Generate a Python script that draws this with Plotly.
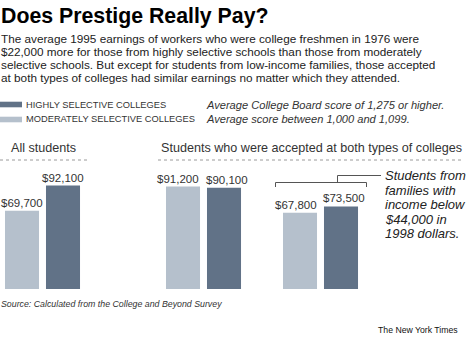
import plotly.graph_objects as go

W, H = 468, 337

# ---- data ----
groups = ["All students", "Accepted at both types", "Accepted at both, low-income"]
bar_names = ["Moderately selective colleges", "Highly selective colleges"]
moderately = [69700, 91200, 67800]
highly = [92100, 90100, 73500]

title = "Does Prestige Really Pay?"
subtitle_lines = [
    "The average 1995 earnings of workers who were college freshmen in 1976 were",
    "$22,000 more for those from highly selective schools than those from moderately",
    "selective schools. But except for students from low-income families, those accepted",
    "at both types of colleges had similar earnings no matter which they attended.",
]
legend_labels = ["HIGHLY SELECTIVE COLLEGES", "MODERATELY SELECTIVE COLLEGES"]
legend_notes = ["Average College Board score of 1,275 or higher.",
                "Average score between 1,000 and 1,099."]
header_1 = "All students"
header_2 = "Students who were accepted at both types of colleges"
note_lines = ["Students from", "families with", "income below", "$44,000 in", "1998 dollars."]
source = "Source: Calculated from the College and Beyond Survey"
credit = "The New York Times"

LIGHT = "#b5c0cc"
DARK = "#617287"
TXT = "#222222"
FONT = "Liberation Sans, Arial, sans-serif"


def X(px):
    return px / W


def Y(py):
    return 1 - py / H


fig = go.Figure()

axis_domains = [(1.5, 83.5), (162.5, 244.5), (279.5, 361.5)]
label_shift = [(0, 0), (-5.5, 3), (-4.5, 2.7)]
ann = []
for i, g in enumerate(groups):
    xa = "x" if i == 0 else f"x{i+1}"
    vals = [moderately[i], highly[i]]
    fig.add_trace(go.Bar(
        x=bar_names,
        y=vals,
        name=g,
        xaxis=xa, yaxis="y",
        marker=dict(color=[LIGHT, DARK], line=dict(width=0)),
        showlegend=False,
        hoverinfo="skip",
    ))
    for j, v in enumerate(vals):
        ann.append(dict(
            x=bar_names[j], y=v, xref=xa, yref="y", text=f"${v:,.0f}",
            showarrow=False, xanchor="center", yanchor="bottom",
            xshift=label_shift[i][j], yshift=0,
            font=dict(family=FONT, size=11.5, color="#333333"),
        ))

layout = dict(
    width=W, height=H,
    margin=dict(l=0, r=0, t=0, b=0),
    paper_bgcolor="white", plot_bgcolor="white",
    bargap=0.17,
    showlegend=False,
    yaxis=dict(domain=[Y(289), Y(160)], range=[0, 114800], visible=False, anchor="x"),
)
for i, (a, b) in enumerate(axis_domains):
    key = "xaxis" if i == 0 else f"xaxis{i+1}"
    layout[key] = dict(domain=[X(a), X(b)], anchor="y", visible=False,
                       type="category", range=[-0.5, 1.5])
fig.update_layout(**layout)


def text(x, y, s, size, color=TXT, italic=False, bold=False, xanchor="left", family=FONT):
    ann.append(dict(
        x=X(x), y=Y(y), xref="paper", yref="paper", text=s, showarrow=False,
        xanchor=xanchor, yanchor="middle",
        font=dict(family=family, size=size, color=color,
                  style="italic" if italic else "normal",
                  weight="bold" if bold else "normal"),
    ))


text(-1, 16, title, 21.3, color="black", bold=True)
for k, ln in enumerate(subtitle_lines):
    text(-1, 38.5 + k * 13, ln, 11.75)

# legend
sw = [(101.7, 107.3, DARK), (116.7, 122.3, LIGHT)]
shapes = []
for k, (y0, y1, c) in enumerate(sw):
    shapes.append(dict(type="rect", xref="paper", yref="paper",
                       x0=X(0), x1=X(22), y0=Y(y1), y1=Y(y0),
                       fillcolor=c, line=dict(width=0)))
    text(24, (y0 + y1) / 2, legend_labels[k], 9.3, color="#333333")
    text(204, (y0 + y1) / 2, legend_notes[k], 11.1, color="#333333", italic=True)

text(9, 148, header_1, 12.6, color="#333333")
text(159, 148, header_2, 12.6, color="#333333")
for x0, x1 in [(0, 87), (158, 464)]:
    shapes.append(dict(type="line", xref="paper", yref="paper",
                       x0=X(x0), x1=X(x1), y0=Y(160), y1=Y(160),
                       line=dict(color="#9a9a9a", width=1, dash="dot")))

# bracket
br = "#555555"
for (x0, y0, x1, y1) in [(275.5, 182.5, 366.5, 182.5), (275.5, 182.5, 275.5, 187),
                         (366.5, 182.5, 366.5, 187), (337.5, 182.5, 337.5, 175.5),
                         (337.5, 175.5, 381, 175.5)]:
    shapes.append(dict(type="line", xref="paper", yref="paper",
                       x0=X(x0), x1=X(x1), y0=Y(y0), y1=Y(y1),
                       line=dict(color=br, width=1)))
for k, ln in enumerate(note_lines):
    text(383, 175.5 + k * 14.5, ln, 13, color="#222222", italic=True)

text(-1, 303.5, source, 8.8, color="#333333", italic=True)
text(460, 329.5, credit, 8.7, color="#111111", xanchor="right")

fig.update_layout(annotations=ann, shapes=shapes)
fig.write_html("out.html")
